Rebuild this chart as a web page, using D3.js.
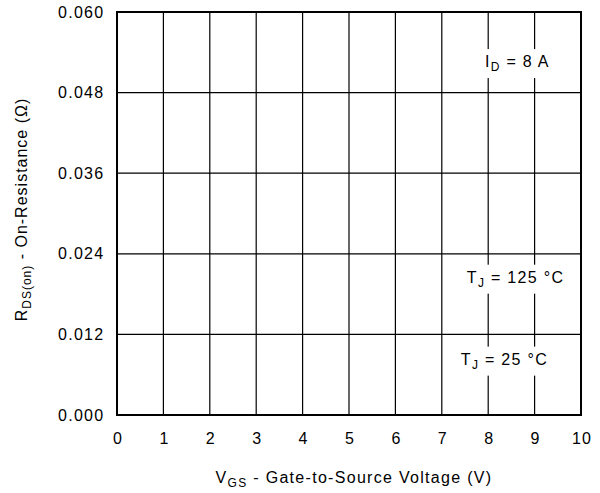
<!DOCTYPE html>
<html>
<head>
<meta charset="utf-8">
<script src="https://cdn.jsdelivr.net/npm/d3@7"></script>
<style>
  html, body { margin: 0; padding: 0; background: #fff; }
  svg { display: block; font-family: "Liberation Sans", Arial, Helvetica, sans-serif; letter-spacing: 1.3px; }
</style>
</head>
<body>
<svg id="chart" width="600" height="493"></svg>
<script>
// Axis ranges and tick values
const xTicks = [0, 1, 2, 3, 4, 5, 6, 7, 8, 9, 10];
const yTicks = [0.000, 0.012, 0.024, 0.036, 0.048, 0.060];

// Condition labels: main text, subscript, remainder, anchor (V, ohm)
const labelMain = ["I", "T", "T"];
const labelSub = ["D", "J", "J"];
const labelRest = [" = 8 A", " = 125 °C", " = 25 °C"];
const labelX = [7.93, 7.54, 7.41];
const labelY = [0.0518, 0.0197, 0.0075];

const svg = d3.select("#chart");
const margin = { left: 117, right: 19, top: 12, bottom: 78 };
const W = 600, H = 493;

const x = d3.scaleLinear().domain([0, 10]).range([margin.left, W - margin.right]);
const y = d3.scaleLinear().domain([0, 0.06]).range([H - margin.bottom, margin.top]);

const fs = 16;

// Grid lines
const grid = svg.append("g");
grid.selectAll("line.v").data(xTicks.slice(1, -1)).join("line")
  .attr("x1", d => x(d)).attr("x2", d => x(d))
  .attr("y1", y(0)).attr("y2", y(0.06))
  .attr("stroke", "#000").attr("stroke-width", 1.2);
grid.selectAll("line.h").data(yTicks.slice(1, -1)).join("line")
  .attr("x1", x(0)).attr("x2", x(10))
  .attr("y1", d => y(d)).attr("y2", d => y(d))
  .attr("stroke", "#000").attr("stroke-width", 1.2);

// Axes (labels only, frame drawn separately)
const xAxis = d3.axisBottom(x).tickValues(xTicks).tickSize(0).tickPadding(0).tickFormat(d3.format("d"));
const gx = svg.append("g").attr("transform", `translate(0,${y(0)})`).call(xAxis);
gx.select(".domain").remove();
gx.selectAll("text").attr("font-size", fs).attr("fill", "#000")
  .attr("font-family", null).attr("dy", null).attr("y", 29).attr("dx", 0.6);

const yAxis = d3.axisLeft(y).tickValues(yTicks).tickSize(0).tickPadding(0).tickFormat(d3.format(".3f"));
const gy = svg.append("g").attr("transform", `translate(${x(0)},0)`).call(yAxis);
gy.select(".domain").remove();
gy.selectAll("text").attr("font-size", fs).attr("fill", "#000")
  .attr("font-family", null).attr("x", -12.5);

// Condition labels with white backing
labelMain.forEach((m, i) => {
  const g = svg.append("g");
  const t = g.append("text")
    .attr("x", x(labelX[i])).attr("y", y(labelY[i]))
    .attr("font-size", fs).attr("fill", "#000");
  t.append("tspan").text(m);
  t.append("tspan").text(labelSub[i]).attr("font-size", fs * 0.75).attr("dy", 4);
  t.append("tspan").text(labelRest[i]).attr("dy", -4);
  const b = t.node().getBBox();
  g.insert("rect", "text")
    .attr("x", b.x - 3).attr("y", b.y - 4)
    .attr("width", b.width + 6).attr("height", b.height + 8)
    .attr("fill", "#fff");
});

// Frame
svg.append("rect")
  .attr("x", x(0)).attr("y", y(0.06))
  .attr("width", x(10) - x(0)).attr("height", y(0) - y(0.06))
  .attr("fill", "none").attr("stroke", "#000").attr("stroke-width", 2);

// Axis titles
const xt = svg.append("text")
  .attr("x", (x(0) + x(10)) / 2 + 5).attr("y", 483)
  .attr("text-anchor", "middle").attr("font-size", fs).attr("fill", "#000");
xt.append("tspan").text("V");
xt.append("tspan").text("GS").attr("font-size", fs * 0.75).attr("dy", 4);
xt.append("tspan").text(" - Gate-to-Source Voltage (V)").attr("dy", -4);

const yt = svg.append("text")
  .attr("transform", `translate(27,${(y(0) + y(0.06)) / 2 - 4}) rotate(-90)`)
  .attr("text-anchor", "middle").attr("font-size", fs).attr("fill", "#000")
  .style("letter-spacing", "1px");
yt.append("tspan").text("R");
yt.append("tspan").text("DS(on)").attr("font-size", fs * 0.75).attr("dy", 4);
yt.append("tspan").text(" - On-Resistance (Ω)").attr("dy", -4);
</script>
</body>
</html>
